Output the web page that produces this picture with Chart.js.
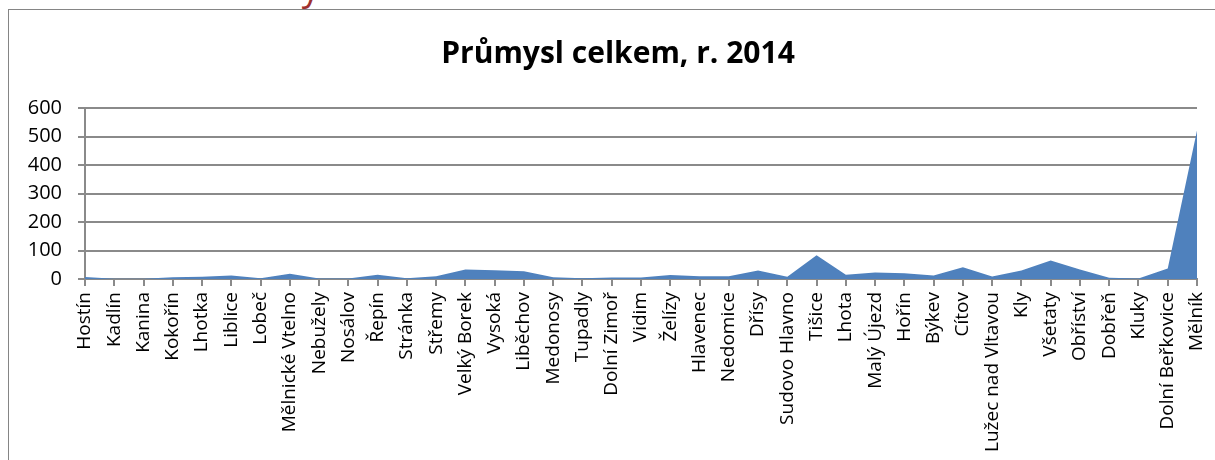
<!DOCTYPE html>
<html lang="cs">
<head>
<meta charset="UTF-8" />
<title>Průmysl celkem, r. 2014</title>
<script src="https://cdn.jsdelivr.net/npm/chart.js"></script>
<style>
  html, body {
    margin: 0;
    padding: 0;
    width: 1215px;
    height: 460px;
    overflow: hidden;
    background: #fff;
  }
  body {
    position: relative;
  }
  /* page heading above the chart, almost entirely cut off at the top edge */
  .heading {
    position: absolute;
    left: 150px;
    bottom: 449px;
    font-family: 'Open Sans', sans-serif;
    font-size: 36px;
    line-height: normal;
    color: #a0312f;
    white-space: nowrap;
  }
  .frame {
    position: absolute;
    left: 8px;
    top: 9px;
    width: 1300px;
    height: 500px;
    border-top: 1px solid #858585;
    border-left: 1px solid #858585;
  }
  #chart {
    position: absolute;
    left: 0;
    top: 0;
  }
</style>
</head>
<body>
<div class="heading">3.4 Průmysl</div>
<div class="frame"></div>
<!-- canvas is a bit wider than the window so the title centres like the original chart box -->
<canvas id="chart" width="1236" height="460"></canvas>
<script>
const obce = [
  "Hostín", "Kadlín", "Kanina", "Kokořín", "Lhotka", "Liblice", "Lobeč",
  "Mělnické Vtelno", "Nebužely", "Nosálov", "Řepín", "Stránka", "Střemy",
  "Velký Borek", "Vysoká", "Liběchov", "Medonosy", "Tupadly", "Dolní Zimoř",
  "Vidim", "Želízy", "Hlavenec", "Nedomice", "Dřísy", "Sudovo Hlavno",
  "Tišice", "Lhota", "Malý Újezd", "Hořín", "Býkev", "Cítov",
  "Lužec nad Vltavou", "Kly", "Všetaty", "Obříství", "Dobřeň", "Kluky",
  "Dolní Beřkovice", "Mělník"
];
const prumysl = [
  7, 1, 1, 6, 8, 12, 3,
  18, 2, 2, 15, 3, 10,
  33, 31, 27, 6, 3, 5,
  5, 14, 10, 10, 30, 8,
  83, 15, 23, 20, 12, 41,
  9, 30, 65, 33, 4, 2,
  37, 521
];
const yTicks = [0, 100, 200, 300, 400, 500, 600];

const gridGray = '#8a8a8a';

new Chart(document.getElementById('chart'), {
  type: 'line',
  data: {
    labels: obce,
    datasets: [{
      label: 'Průmysl celkem',
      data: prumysl,
      fill: 'origin',
      backgroundColor: '#4f81bd',
      borderWidth: 0,
      pointRadius: 0,
      tension: 0
    }]
  },
  options: {
    responsive: false,
    animation: false,
    layout: { padding: 0 },
    plugins: {
      legend: { display: false },
      tooltip: { enabled: false },
      title: {
        display: true,
        text: 'Průmysl celkem, r. 2014',
        color: '#000',
        font: { family: 'Open Sans', size: 30, weight: 'bold', lineHeight: 1.2 },
        padding: { top: 36, bottom: 36 }
      }
    },
    scales: {
      x: {
        offset: false,
        grid: {
          drawOnChartArea: false,
          drawTicks: true,
          tickLength: 7,
          color: gridGray,
          lineWidth: 2
        },
        border: { color: gridGray, width: 2 },
        ticks: {
          autoSkip: false,
          minRotation: 90,
          maxRotation: 90,
          padding: 6,
          color: '#000',
          font: { family: 'Open Sans', size: 19 }
        },
        afterFit: s => { s.height = 460 - 279; }
      },
      y: {
        min: 0,
        max: 600,
        grid: {
          color: gridGray,
          lineWidth: 2,
          tickLength: 7
        },
        border: { color: gridGray, width: 2 },
        ticks: {
          padding: 16,
          color: '#000',
          font: { family: 'Open Sans', size: 20 }
        },
        afterBuildTicks: s => { s.ticks = yTicks.map(v => ({ value: v })); },
        afterFit: s => { s.width = 85; }
      },
      // empty spacer on the right, keeps the plot ending where the original does
      spacer: {
        type: 'linear',
        position: 'right',
        grid: { display: false },
        border: { display: false },
        ticks: { display: false },
        afterFit: s => { s.width = 1236 - 1197; }
      }
    }
  }
});
</script>
</body>
</html>
